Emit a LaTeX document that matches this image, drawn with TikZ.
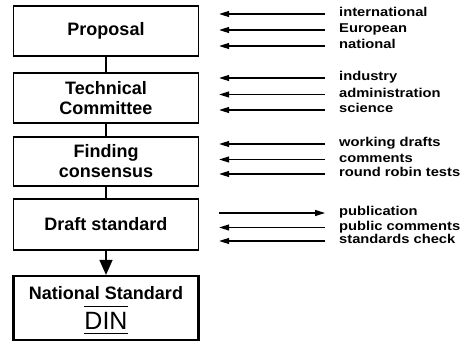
\documentclass[tikz,border=0pt]{standalone}
\usepackage{fontspec}
\setmainfont{Liberation Sans}
\newfontfamily\widefont[FakeStretch=1.15]{Liberation Sans}
\usetikzlibrary{arrows.meta}

\tikzset{
  stage/.style={draw,line width=1.3pt,minimum width=185pt,minimum height=50pt,
    align=center,font=\fontsize{18}{20}\selectfont\bfseries},
  source/.style={anchor=mid west,inner sep=0pt,font=\widefont\fontsize{12.8}{15}\selectfont\bfseries},
  feed/.style={line width=1.1pt,-{Triangle[length=10pt,width=6pt]},shorten <=14pt,shorten >=20pt},
  issue/.style={line width=1.1pt,-{Triangle[length=10pt,width=6pt]},shorten <=20pt,shorten >=14pt},
}

\begin{document}
\begin{tikzpicture}[x=1pt,y=-1pt]
  \useasboundingbox (0,0) rectangle (466,342);
  % the stages
  \node[stage] (prop) at (106,31) {Proposal};
  \node[stage] (tech) at (106,98) {Technical\\Committee};
  \node[stage,minimum height=49pt] (cons) at (106,161.5) {Finding\\consensus};
  \node[stage,minimum height=51pt] (draft) at (106,224.5) {Draft standard};
  \node[stage,line width=2.2pt,minimum height=64pt] (nat) at (106,308) {};
  \node[font=\fontsize{18}{20}\selectfont\bfseries] (natname) at (106,293) {National Standard};
  \node[anchor=base,inner sep=0pt,font=\fontsize{25}{25}\selectfont] (din) at (106,329) {DIN};
  \draw[line width=1.3pt] ([yshift=5pt]din.north west) -- ([yshift=5pt]din.north east);
  \draw[line width=1.3pt] ([yshift=-4pt]din.south west) -- ([yshift=-4pt]din.south east);

  \draw[line width=1.3pt] (prop) -- (tech);
  \draw[line width=1.3pt] (tech) -- (cons);
  \draw[line width=1.3pt] (cons) -- (draft);
  \draw[line width=1.3pt,-{Triangle[length=15pt,width=13pt]}] (draft) -- (nat);

  % inputs
  \foreach \txt/\y [count=\i] in {international/14,European/30,national/46}{
    \node[source] (prop\i) at (339,\y) {\txt};
    \draw[feed] (prop\i.mid west) -- (prop.east |- prop\i.mid west);
  }
  \foreach \txt/\y [count=\i] in {industry/78,administration/94.5,science/110}{
    \node[source] (tech\i) at (339,\y) {\txt};
    \draw[feed] (tech\i.mid west) -- (tech.east |- tech\i.mid west);
  }
  \foreach \txt/\y [count=\i] in {working drafts/144,comments/159.5,round robin tests/174}{
    \node[source] (cons\i) at (339,\y) {\txt};
    \draw[feed] (cons\i.mid west) -- (cons.east |- cons\i.mid west);
  }
  \node[source] (draft1) at (339,213) {publication};
  \draw[issue] (draft.east |- draft1.mid west) -- (draft1.mid west);
  \foreach \txt/\y [count=\i from 2] in {public comments/227.5,standards check/241}{
    \node[source] (draft\i) at (339,\y) {\txt};
    \draw[feed] (draft\i.mid west) -- (draft.east |- draft\i.mid west);
  }
\end{tikzpicture}
\end{document}
